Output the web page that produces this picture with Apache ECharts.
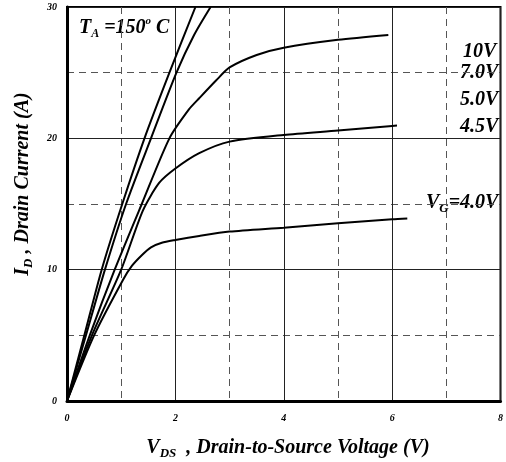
<!DOCTYPE html>
<html><head><meta charset="utf-8">
<script src="https://cdn.jsdelivr.net/npm/echarts@6/dist/echarts.min.js"></script>
<style>html,body{margin:0;padding:0;background:#fff}#c{width:506px;height:462px}</style>
</head><body><div id="c"></div>
<script>
// Data (V_DS [V], I_D [A])
var curve10V = [[0,0],[0.32,5],[0.64,10],[1.02,15],[1.43,20],[1.89,25],[2.37,30]];
var curve7V  = [[0,0],[0.35,5],[0.70,10],[1.09,15],[1.55,20],[2.02,25],[2.35,27.9],[2.65,30]];
var curve5V  = [[0,0],[0.42,5],[0.88,10],[1.38,15],[1.89,20],[2.25,22.2],[2.44,23.05],[2.75,24.4],[3.0,25.4],[3.5,26.35],[4.0,26.9],[5.0,27.5],[5.93,27.87]];
var curve45V = [[0,0],[0.46,5],[1.0,10],[1.40,14.5],[1.70,16.6],[2.0,17.7],[2.44,18.87],[3.0,19.75],[4.0,20.26],[5.0,20.59],[6.0,20.94],[6.09,20.97]];
var curve4V  = [[0,0],[0.5,5],[1.03,9.2],[1.2,10.3],[1.38,11.1],[1.55,11.7],[1.75,12.05],[2.0,12.26],[2.44,12.57],[3.0,12.9],[4.0,13.2],[5.0,13.53],[6.0,13.84],[6.28,13.9]];
var seriesNames = ['10V','7.0V','5.0V','4.5V','V_G=4.0V'];
var xTicks = [0,2,4,6,8];
var yTicks = [0,10,20,30];

var serif = '"Liberation Serif","DejaVu Serif",serif';
var chart = echarts.init(document.getElementById('c'), null, {renderer:'canvas'});
function line(name, data){
  return {name:name, type:'line', data:data, showSymbol:false, smooth:0.25,
    lineStyle:{color:'#000', width:2}, silent:true, clip:true};
}
var tickLbl = {fontFamily:serif, fontStyle:'italic', fontWeight:'bold', fontSize:10, color:'#000'};
function big(fs, lh){ return {fontFamily:serif,fontStyle:'italic',fontWeight:'bold',fontSize:fs,lineHeight:lh,fill:'#000'}; }
function sub(fs, lh, va){ return {fontFamily:serif,fontStyle:'italic',fontWeight:'bold',fontSize:fs,lineHeight:lh,verticalAlign:va,fill:'#000'}; }
chart.setOption({
  animation:false,
  grid:{left:67, right:3, top:7, bottom:61, show:true, borderColor:'#000', borderWidth:2, backgroundColor:'transparent'},
  xAxis:{type:'value', min:xTicks[0], max:xTicks[xTicks.length-1], interval:2,
    axisLine:{show:true, onZero:false, lineStyle:{color:'#000', width:3}},
    axisTick:{show:false},
    axisLabel:Object.assign({margin:12}, tickLbl),
    splitLine:{show:true, lineStyle:{color:'#222', width:1}},
    minorTick:{show:false, splitNumber:2},
    minorSplitLine:{show:true, lineStyle:{color:'#555', width:1, type:[7,5]}}
  },
  yAxis:{type:'value', min:yTicks[0], max:yTicks[yTicks.length-1], interval:10,
    axisLine:{show:true, onZero:false, lineStyle:{color:'#000', width:3}},
    axisTick:{show:false},
    axisLabel:Object.assign({margin:10}, tickLbl),
    splitLine:{show:true, lineStyle:{color:'#222', width:1}},
    minorTick:{show:false, splitNumber:2},
    minorSplitLine:{show:true, lineStyle:{color:'#555', width:1, type:[7,5]}}
  },
  series:[line(seriesNames[0],curve10V), line(seriesNames[1],curve7V), line(seriesNames[2],curve5V), line(seriesNames[3],curve45V), line(seriesNames[4],curve4V)],
  graphic:[
    {type:'text', x:79, y:28, style:{
      text:'{b|T}{s|A}{b| =150}{p|o}{b| C}', textAlign:'left', verticalAlign:'middle',
      rich:{b:big(20,24), s:sub(12,12,'bottom'), p:sub(11,14,'top')}
    }},
    {type:'text', x:463, y:52, style:{text:'10V', font:'italic bold 20px '+serif, fill:'#000', textAlign:'left', verticalAlign:'middle'}},
    {type:'text', x:460, y:73, style:{text:'7.0V', font:'italic bold 20px '+serif, fill:'#000', textAlign:'left', verticalAlign:'middle'}},
    {type:'text', x:460, y:100, style:{text:'5.0V', font:'italic bold 20px '+serif, fill:'#000', textAlign:'left', verticalAlign:'middle'}},
    {type:'text', x:460, y:127, style:{text:'4.5V', font:'italic bold 20px '+serif, fill:'#000', textAlign:'left', verticalAlign:'middle'}},
    {type:'text', x:426, y:203, style:{
      text:'{b|V}{s|G}{b|=4.0V}', textAlign:'left', verticalAlign:'middle',
      rich:{b:big(20,24), s:sub(13,12,'bottom')}
    }},
    {type:'text', x:288, y:448, style:{
      text:'{b|V}{s|DS}{b|  , Drain-to-Source Voltage (V)}', textAlign:'center', verticalAlign:'middle',
      rich:{b:big(20,24), s:sub(13,12,'bottom')}
    }},
    {type:'text', x:23, y:184, rotation:Math.PI/2, style:{
      text:'{b|I}{s|D}{b| , Drain Current (A)}', textAlign:'center', verticalAlign:'middle',
      rich:{b:big(20,24), s:sub(13,12,'bottom')}
    }}
  ]
});
</script></body></html>
